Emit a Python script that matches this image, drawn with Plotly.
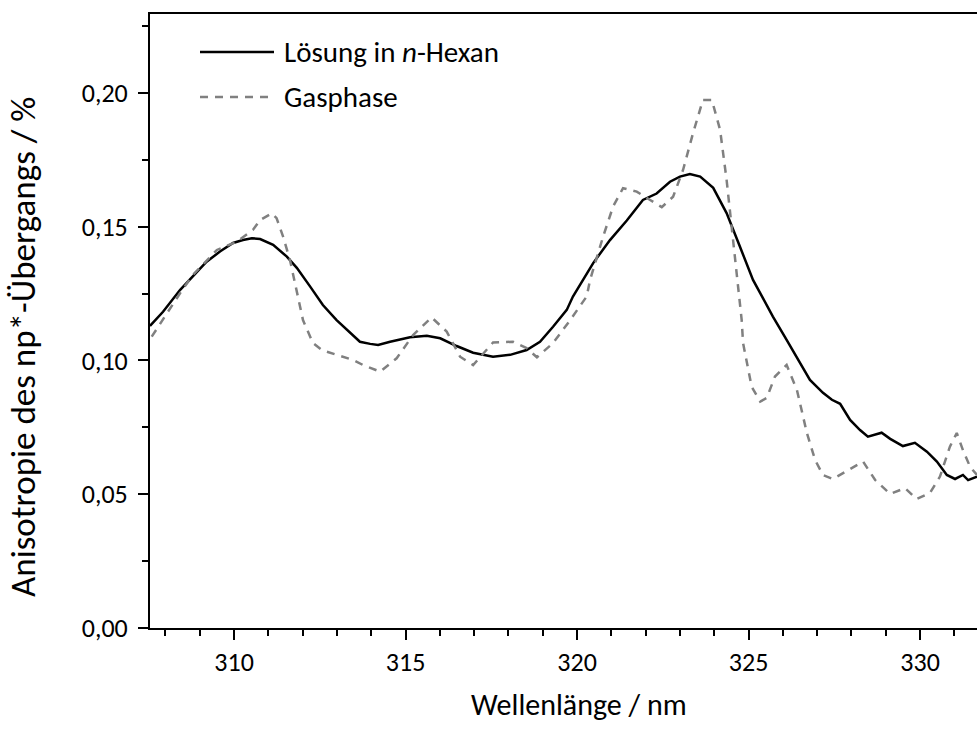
import plotly.graph_objects as go

# Anisotropy of the n-pi* transition, solution in n-hexane
wl_solution = [307.55, 307.93, 308.43, 308.80, 309.20, 309.59, 309.97, 310.26, 310.52, 310.76,
               311.14, 311.54, 311.83, 312.22, 312.59, 312.99, 313.38, 313.67, 313.97, 314.20,
               314.55, 315.13, 315.62, 316.01, 316.49, 316.97, 317.55, 318.05, 318.53, 318.92,
               319.30, 319.70, 319.88, 320.47, 320.96, 321.45, 321.92, 322.32, 322.71, 323.00,
               323.29, 323.59, 323.97, 324.36, 324.75, 325.13, 325.34, 325.71, 326.11, 326.50,
               326.79, 327.17, 327.43, 327.67, 327.96, 328.25, 328.48, 328.88, 329.13, 329.50,
               329.85, 330.20, 330.49, 330.78, 331.02, 331.25, 331.40, 331.66]
aniso_solution = [0.1129, 0.1182, 0.1264, 0.1316, 0.1369, 0.1407, 0.1439, 0.1450, 0.1457, 0.1454,
                  0.1432, 0.1388, 0.1346, 0.1276, 0.1207, 0.1151, 0.1103, 0.1070, 0.1062, 0.1058,
                  0.1070, 0.1087, 0.1092, 0.1083, 0.1054, 0.1029, 0.1014, 0.1021, 0.1039, 0.1070,
                  0.1126, 0.1189, 0.1239, 0.1364, 0.1450, 0.1523, 0.1600, 0.1624, 0.1668, 0.1687,
                  0.1697, 0.1687, 0.1645, 0.1551, 0.1425, 0.1301, 0.1252, 0.1164, 0.1077, 0.0991,
                  0.0927, 0.0879, 0.0853, 0.0838, 0.0778, 0.0740, 0.0715, 0.0730, 0.0707, 0.0680,
                  0.0692, 0.0659, 0.0622, 0.0572, 0.0557, 0.0572, 0.0553, 0.0566]

# Gas phase
wl_gas = [307.60, 308.04, 308.43, 308.80, 309.50, 310.08, 310.55, 310.76, 311.10, 311.24,
          311.43, 311.63, 311.78, 312.01, 312.30, 312.56, 312.99, 313.47, 313.76, 314.26,
          314.74, 315.22, 315.76, 316.20, 316.59, 316.97, 317.55, 318.13, 318.53, 318.83,
          319.30, 319.80, 320.28, 320.38, 320.76, 321.05, 321.34, 321.74, 322.13, 322.47,
          322.80, 323.09, 323.38, 323.67, 323.93, 324.17, 324.36, 324.51, 324.66, 324.80,
          324.84, 325.09, 325.34, 325.53, 325.77, 326.11, 326.41, 326.70, 326.94, 327.17,
          327.46, 327.96, 328.34, 328.69, 329.13, 329.56, 329.90, 330.29, 330.58, 330.87,
          331.07, 331.25, 331.46, 331.66]
aniso_gas = [0.1089, 0.1178, 0.1252, 0.1320, 0.1413, 0.1444, 0.1488, 0.1525, 0.1550, 0.1532,
             0.1463, 0.1376, 0.1290, 0.1151, 0.1065, 0.1039, 0.1021, 0.1002, 0.0983, 0.0958,
             0.1008, 0.1095, 0.1161, 0.1108, 0.1014, 0.0983, 0.1067, 0.1070, 0.1046, 0.1012,
             0.1065, 0.1151, 0.1239, 0.1301, 0.1463, 0.1575, 0.1644, 0.1631, 0.1600, 0.1573,
             0.1612, 0.1712, 0.1849, 0.1974, 0.1974, 0.1862, 0.1675, 0.1488, 0.1313, 0.1151,
             0.1065, 0.0902, 0.0846, 0.0860, 0.0940, 0.0983, 0.0890, 0.0729, 0.0628, 0.0572,
             0.0557, 0.0594, 0.0622, 0.0553, 0.0501, 0.0523, 0.0482, 0.0505, 0.0566, 0.0678,
             0.0729, 0.0665, 0.0602, 0.0572]

series_names = ["Lösung in <i>n</i>-Hexan", "Gasphase"]
x_title = "Wellenlänge / nm"
y_title = "Anisotropie des np*-Übergangs / %"
x_ticks = [310, 315, 320, 325, 330]
y_ticks = [0.00, 0.05, 0.10, 0.15, 0.20]
y_tick_text = ["0,00", "0,05", "0,10", "0,15", "0,20"]

FONT = "Carlito, Calibri, Lato, sans-serif"
W, H = 977, 736
ML, MR, MT, MB = 150, 0, 14, 108

fig = go.Figure()
fig.add_trace(go.Scatter(x=wl_solution, y=aniso_solution, mode="lines",
                         line=dict(color="black", width=2.5), name=series_names[0],
                         showlegend=False))
fig.add_trace(go.Scatter(x=wl_gas, y=aniso_gas, mode="lines",
                         line=dict(color="#808080", width=2.5, dash="8px,7px"),
                         name=series_names[1], showlegend=False))

def px_to_paper(px, py):
    return (px - ML) / (W - ML - MR), (H - MB - py) / (H - MT - MB)

# hand-placed legend inside the plot area
legend_rows = [(52, dict(color="black", width=2.5)),
               (97, dict(color="#808080", width=2.5, dash="8px,7px"))]
for (py, ln), label in zip(legend_rows, series_names):
    x0, y0 = px_to_paper(200, py)
    x1, _ = px_to_paper(274, py)
    fig.add_shape(type="line", xref="paper", yref="paper", x0=x0, x1=x1, y0=y0, y1=y0, line=ln)
    tx, _ = px_to_paper(282, py)
    fig.add_annotation(xref="paper", yref="paper", x=tx, y=y0, text=label, showarrow=False,
                       xanchor="left", yanchor="middle",
                       font=dict(family=FONT, size=29, color="black"))

# axis titles placed as annotations (the axis continues past the right page edge)
tx, ty = px_to_paper(579, 704)
fig.add_annotation(xref="paper", yref="paper", x=tx, y=ty, text=x_title, showarrow=False,
                   xanchor="center", yanchor="middle",
                   font=dict(family=FONT, size=30, color="black"))
tx, ty = px_to_paper(23, 347)
fig.add_annotation(xref="paper", yref="paper", x=tx, y=ty, text=y_title, showarrow=False,
                   textangle=-90, xanchor="center", yanchor="middle",
                   font=dict(family=FONT, size=35, color="black"))

fig.update_layout(
    width=W, height=H,
    margin=dict(l=ML, r=MR, t=MT, b=MB),
    paper_bgcolor="white", plot_bgcolor="white",
    font=dict(family=FONT, size=26, color="black"),
    showlegend=False,
    xaxis=dict(
        range=[307.55, 331.66], tickvals=x_ticks, ticks="outside", ticklen=10, tickwidth=2,
        tickcolor="black", showline=True, linecolor="black", linewidth=2, mirror=True,
        showgrid=False, zeroline=False,
        minor=dict(dtick=1, ticks="outside", ticklen=6, tickwidth=2, tickcolor="black",
                   showgrid=False),
        tickfont=dict(family=FONT, size=26),
    ),
    yaxis=dict(
        range=[0, 0.2295], tickvals=y_ticks, ticktext=y_tick_text, ticks="outside", ticklen=10,
        tickwidth=2, tickcolor="black", showline=True, linecolor="black", linewidth=2,
        showgrid=False, zeroline=False, ticklabelstandoff=5,
        minor=dict(dtick=0.025, ticks="outside", ticklen=6, tickwidth=2, tickcolor="black",
                   showgrid=False),
        tickfont=dict(family=FONT, size=26),
    ),
)

fig.write_html("out.html")
